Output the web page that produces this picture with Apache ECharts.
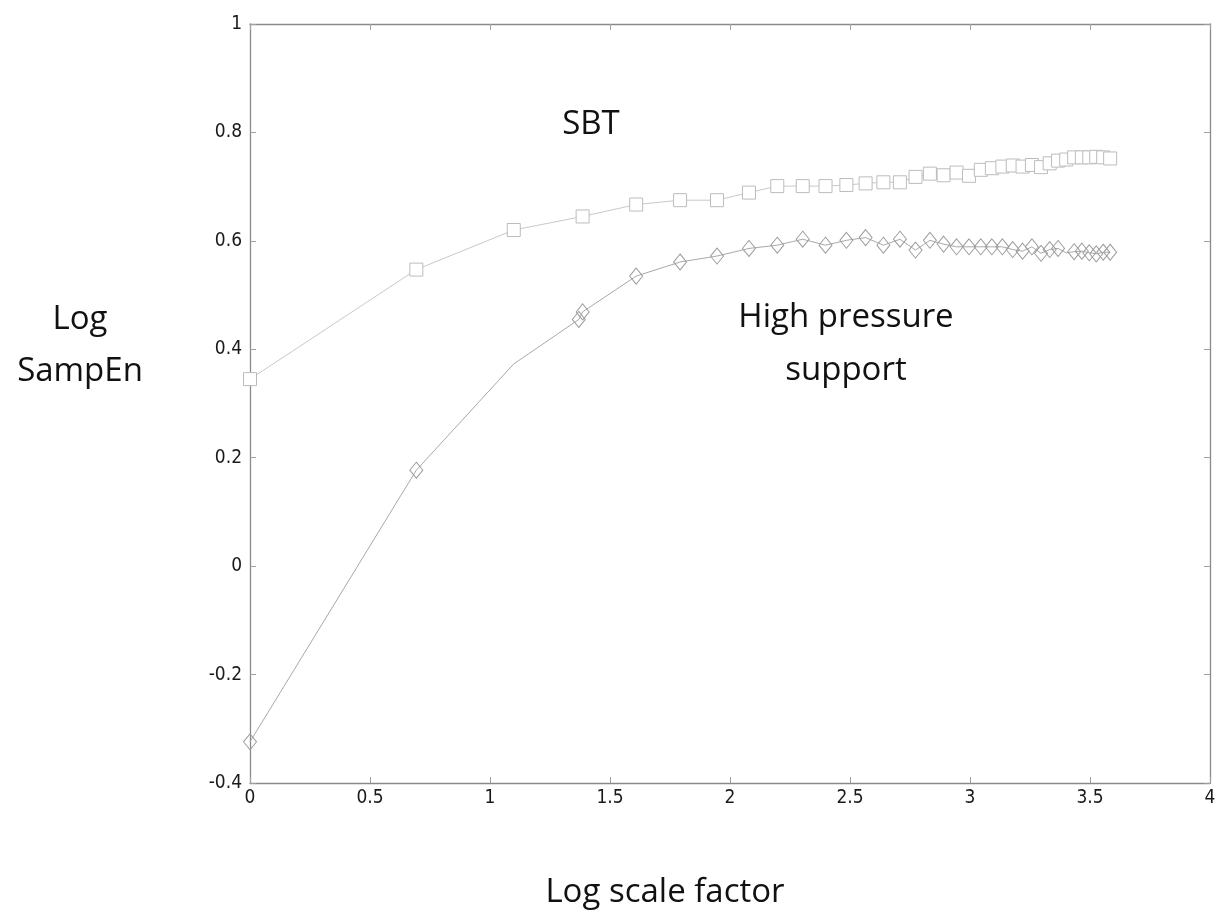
<!DOCTYPE html>
<html>
<head>
<meta charset="utf-8">
<script src="https://cdn.jsdelivr.net/npm/echarts@6/dist/echarts.min.js"></script>
<style>html,body{margin:0;padding:0;background:#fff}#c{width:1219px;height:913px}</style>
</head>
<body>
<div id="c"></div>
<script>
// Log scale factor (x) and Log SampEn (y)
var sbtX = [0, 0.693, 1.099, 1.386, 1.609, 1.792, 1.946, 2.079, 2.197, 2.303, 2.398, 2.485, 2.565, 2.639, 2.708, 2.773, 2.833, 2.890, 2.944, 2.996, 3.045, 3.091, 3.135, 3.178, 3.219, 3.258, 3.296, 3.332, 3.367, 3.401, 3.434, 3.466, 3.497, 3.526, 3.555, 3.584];
var sbtY = [0.345, 0.547, 0.620, 0.645, 0.667, 0.675, 0.675, 0.689, 0.701, 0.701, 0.701, 0.703, 0.706, 0.708, 0.708, 0.718, 0.724, 0.721, 0.726, 0.720, 0.731, 0.734, 0.737, 0.739, 0.737, 0.740, 0.736, 0.743, 0.748, 0.750, 0.754, 0.754, 0.754, 0.755, 0.754, 0.752];

var hpsX = [0, 0.693, 1.099, 1.370, 1.386, 1.609, 1.792, 1.946, 2.079, 2.197, 2.303, 2.398, 2.485, 2.565, 2.639, 2.708, 2.773, 2.833, 2.890, 2.944, 2.996, 3.045, 3.091, 3.135, 3.178, 3.219, 3.258, 3.296, 3.332, 3.367, 3.401, 3.434, 3.466, 3.497, 3.526, 3.555, 3.584];
var hpsY = [-0.324, 0.177, 0.373, 0.455, 0.469, 0.535, 0.561, 0.572, 0.586, 0.592, 0.603, 0.592, 0.601, 0.606, 0.592, 0.603, 0.583, 0.601, 0.594, 0.589, 0.589, 0.589, 0.589, 0.589, 0.584, 0.581, 0.589, 0.577, 0.584, 0.586, 0.578, 0.580, 0.581, 0.578, 0.576, 0.579, 0.579];
var hpsMarker = [1, 1, 0, 1, 1, 1, 1, 1, 1, 1, 1, 1, 1, 1, 1, 1, 1, 1, 1, 1, 1, 1, 1, 1, 1, 1, 1, 1, 1, 1, 0, 1, 1, 1, 1, 1, 1];

var xTicks = {min: 0, max: 4, interval: 0.5};
var yTicks = {min: -0.4, max: 1, interval: 0.2};

var sbtData = sbtX.map(function (x, i) { return [x, sbtY[i]]; });
var hpsData = hpsX.map(function (x, i) {
  return {value: [x, hpsY[i]], symbol: hpsMarker[i] ? 'diamond' : 'none'};
});

var axisLine = {show: true, onZero: false, lineStyle: {color: '#8a8a8a', width: 1.3}};
var axisTick = {show: true, inside: true, length: 6, lineStyle: {color: '#a0a0a0'}};
var tickFont = {fontFamily: "'Liberation Sans Narrow', 'DejaVu Sans Condensed', 'Liberation Sans', Arial, sans-serif", fontSize: 19, color: '#1a1a1a'};
var textFont = "'Open Sans', 'Noto Sans', sans-serif";

function label(txt, x, y) {
  return {type: 'text', x: x, y: y, style: {text: txt, fontFamily: textFont, fontSize: 33, fill: '#111', align: 'center', verticalAlign: 'middle', textAlign: 'center', textVerticalAlign: 'middle'}};
}

var chart = echarts.init(document.getElementById('c'), null, {renderer: 'canvas'});
chart.setOption({
  backgroundColor: '#ffffff',
  animation: false,
  grid: {left: 250, top: 24, right: 9, bottom: 130, containLabel: false},
  xAxis: [{
    type: 'value', min: xTicks.min, max: xTicks.max, interval: xTicks.interval,
    position: 'bottom',
    axisLine: axisLine, axisTick: axisTick,
    axisLabel: Object.assign({margin: 6}, tickFont),
    splitLine: {show: false}
  }, {
    type: 'value', min: xTicks.min, max: xTicks.max, interval: xTicks.interval,
    position: 'top',
    axisLine: axisLine, axisTick: axisTick,
    axisLabel: {show: false},
    splitLine: {show: false}
  }],
  yAxis: [{
    type: 'value', min: yTicks.min, max: yTicks.max, interval: yTicks.interval,
    position: 'left',
    axisLine: axisLine, axisTick: axisTick,
    axisLabel: Object.assign({margin: 8, formatter: function (v) { return String(Math.round(v * 10) / 10); }}, tickFont),
    splitLine: {show: false}
  }, {
    type: 'value', min: yTicks.min, max: yTicks.max, interval: yTicks.interval,
    position: 'right',
    axisLine: axisLine, axisTick: axisTick,
    axisLabel: {show: false},
    splitLine: {show: false}
  }],
  series: [{
    name: 'SBT',
    type: 'line',
    data: sbtData,
    symbol: 'rect',
    symbolSize: 13,
    showAllSymbol: true,
    lineStyle: {color: '#c9c9c9', width: 1},
    itemStyle: {color: '#ffffff', borderColor: '#bcbcbc', borderWidth: 1},
    emphasis: {disabled: true},
    z: 2
  }, {
    name: 'High pressure support',
    type: 'line',
    data: hpsData,
    symbol: 'diamond',
    symbolSize: [13, 16],
    showAllSymbol: true,
    lineStyle: {color: '#a9a9a9', width: 1},
    itemStyle: {color: 'rgba(255,255,255,0)', borderColor: '#9c9c9c', borderWidth: 1},
    emphasis: {disabled: true},
    z: 3
  }],
  graphic: [
    label('SBT', 591, 125),
    label('High pressure', 846, 318),
    label('support', 846, 371),
    label('Log', 80, 320),
    label('SampEn', 80, 372),
    label('Log scale factor', 665, 893)
  ]
});
</script>
</body>
</html>
